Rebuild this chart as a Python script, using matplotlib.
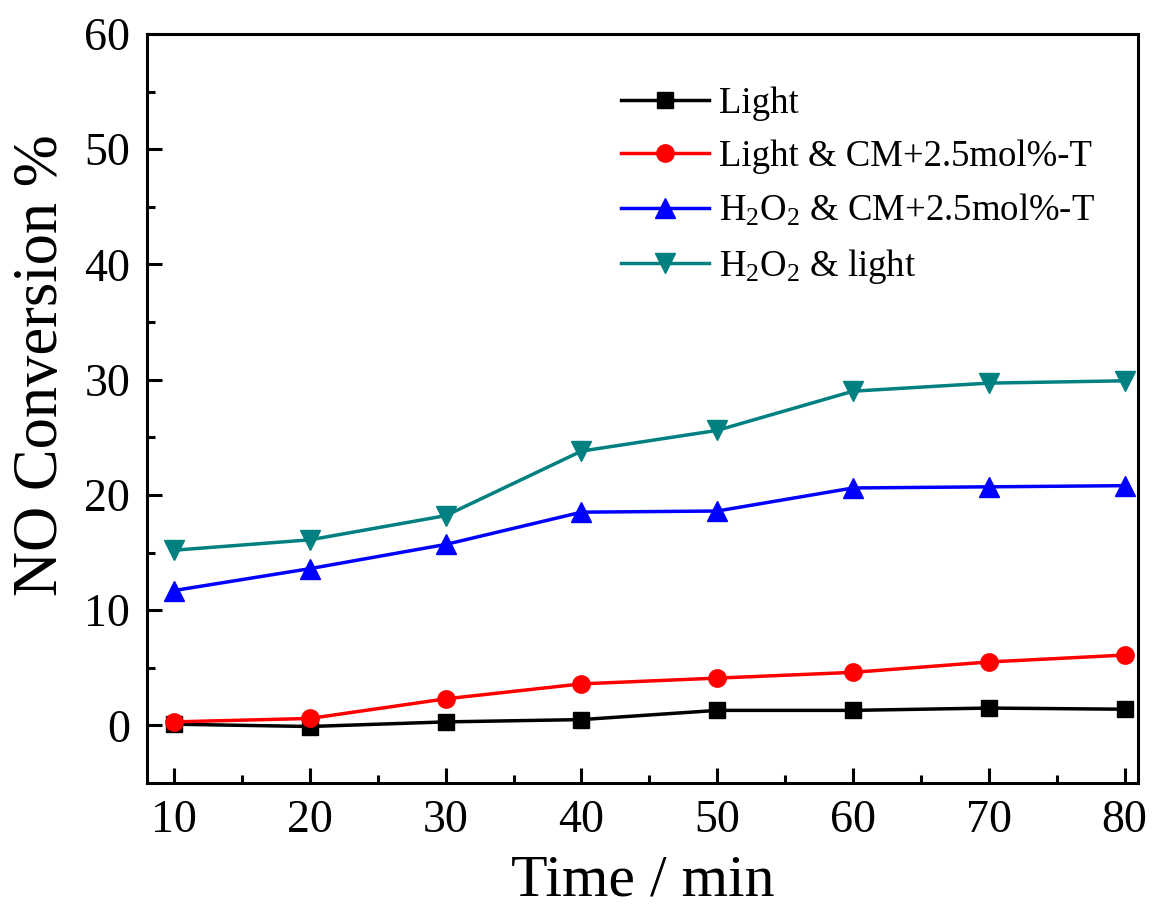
import matplotlib
matplotlib.use("Agg")
import matplotlib.pyplot as plt
from matplotlib.ticker import MultipleLocator

plt.rcParams['font.family'] = ['Liberation Serif', 'DejaVu Serif']
plt.rcParams['mathtext.fontset'] = 'custom'
plt.rcParams['mathtext.rm'] = 'Liberation Serif'
plt.rcParams['mathtext.it'] = 'Liberation Serif:italic'

time = [10, 20, 30, 40, 50, 60, 70, 80]
light = [0.1, -0.1, 0.3, 0.5, 1.3, 1.3, 1.5, 1.4]
light_cm = [0.3, 0.6, 2.3, 3.6, 4.1, 4.6, 5.5, 6.1]
h2o2_cm = [11.7, 13.6, 15.7, 18.5, 18.6, 20.6, 20.7, 20.8]
h2o2_light = [15.2, 16.1, 18.2, 23.8, 25.6, 29.0, 29.7, 29.9]

labels = ["Light", "Light & CM+2.5mol%-T",
          r"H$_2$O$_2$ & CM+2.5mol%-T", r"H$_2$O$_2$ & light"]

fig = plt.figure(figsize=(11.52, 9.08), dpi=100)
ax = fig.add_axes([0.1276, 0.1377, 0.8604, 0.8249])

lw = 2.5
ax.plot(time, light, color='black', marker='s', ms=11.5, lw=lw, label=labels[0])
ax.plot(time, light_cm, color='#ff0000', marker='o', ms=12.5, lw=lw, label=labels[1])
ax.plot(time, h2o2_cm, color='#0000ff', marker='^', ms=14, lw=lw, label=labels[2])
ax.plot(time, h2o2_light, color='#008080', marker='v', ms=14, lw=lw, label=labels[3])

ax.set_xlim(8, 81)
ax.set_ylim(-5, 60)
ax.xaxis.set_major_locator(MultipleLocator(10))
ax.xaxis.set_minor_locator(MultipleLocator(5))
ax.yaxis.set_major_locator(MultipleLocator(10))
ax.yaxis.set_minor_locator(MultipleLocator(5))
ax.tick_params(which='both', direction='in', top=False, right=False, width=2.2, labelsize=33)
ax.tick_params(which='major', length=11, pad=12)
ax.tick_params(which='minor', length=6)
for s in ax.spines.values():
    s.set_linewidth(2.2)

ax.set_xlabel("Time / min", fontsize=43, labelpad=9)
ax.set_ylabel("NO Conversion %", fontsize=45)
ax.yaxis.set_label_coords(-0.077, 0.558)

leg = ax.legend(loc='upper left', bbox_to_anchor=(0.478, 0.93), frameon=False,
                fontsize=26.5, handlelength=2.4, handletextpad=0.28, labelspacing=0.5,
                borderaxespad=0, borderpad=0)

fig.savefig("out.png", dpi=100)
